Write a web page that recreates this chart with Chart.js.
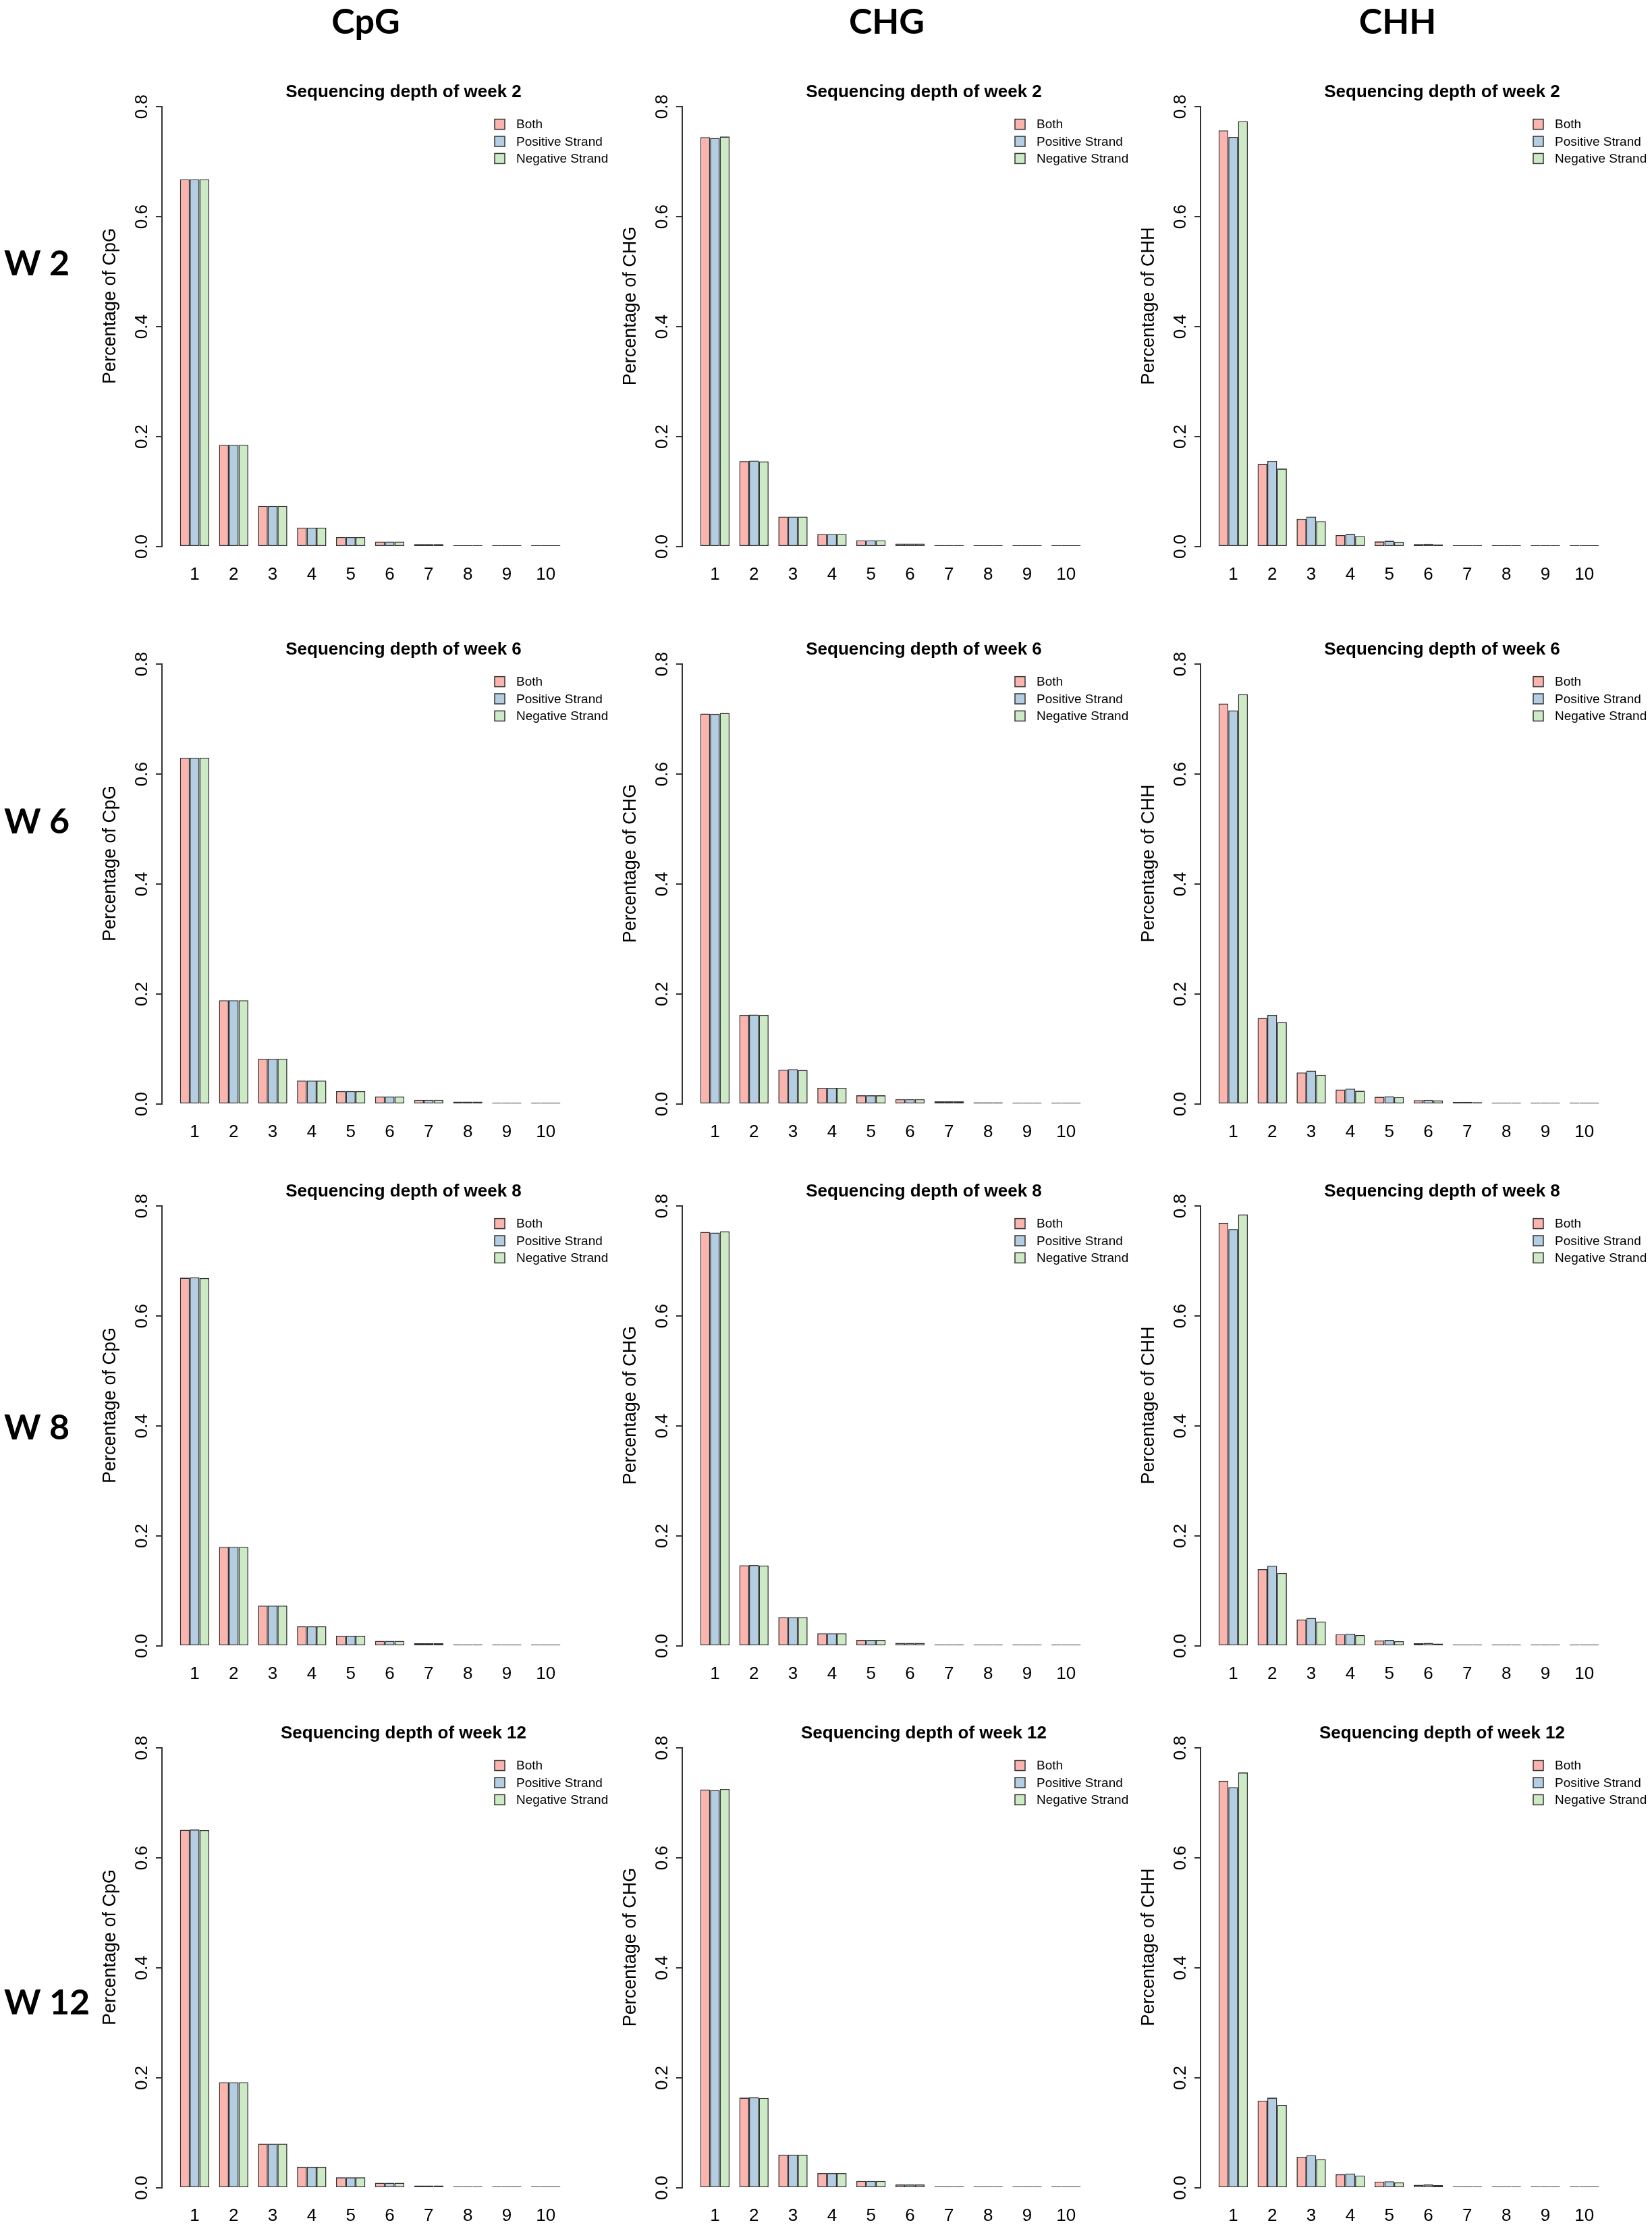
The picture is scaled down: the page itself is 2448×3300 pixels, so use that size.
<!DOCTYPE html>
<html>
<head>
<meta charset="utf-8">
<script src="https://cdn.jsdelivr.net/npm/chart.js@4.4.1/dist/chart.umd.min.js"></script>
<style>
  html, body { margin: 0; padding: 0; background: #fff; }
  #page { position: relative; width: 2448px; height: 3300px; overflow: hidden; background: #fff; }
  #page canvas { position: absolute; }
  .big { position: absolute; font-family: Lato, "Open Sans", sans-serif; font-weight: bold;
         font-size: 52px; line-height: 1; color: #000; white-space: nowrap; }
</style>
</head>
<body>
<div id="page"></div>
<script>
// depth categories on the x axis
const depths = [1, 2, 3, 4, 5, 6, 7, 8, 9, 10];
const depthLabels = ['1', '2', '3', '4', '5', '6', '7', '8', '9', '10'];
const yTickValues = [0, 0.2, 0.4, 0.6, 0.8];
const yTickLabels = ['0.0', '0.2', '0.4', '0.6', '0.8'];

const contexts = ['CpG', 'CHG', 'CHH'];
const weeks = [2, 6, 8, 12];
const weekLabels = ['W 2', 'W 6', 'W 8', 'W 12'];
const seriesNames = ['Both', 'Positive Strand', 'Negative Strand'];

// week 2
const cpgW2Both = [0.668, 0.185, 0.074, 0.0345, 0.0172, 0.0093, 0.0046, 0.0022, 0.0011, 0.0005];
const cpgW2Pos  = [0.668, 0.185, 0.074, 0.0345, 0.0172, 0.0093, 0.0046, 0.0022, 0.0011, 0.0005];
const cpgW2Neg  = [0.668, 0.185, 0.074, 0.0345, 0.0172, 0.0093, 0.0046, 0.0022, 0.0011, 0.0005];
const chgW2Both = [0.7447, 0.1554, 0.0547, 0.023, 0.0115, 0.0055, 0.0027, 0.0012, 0.0006, 0.0003];
const chgW2Pos  = [0.743, 0.1565, 0.0547, 0.023, 0.0115, 0.0055, 0.0027, 0.0012, 0.0006, 0.0003];
const chgW2Neg  = [0.7458, 0.1549, 0.0547, 0.023, 0.0115, 0.0055, 0.0027, 0.0012, 0.0006, 0.0003];
const chhW2Both = [0.757, 0.150, 0.0505, 0.0211, 0.0094, 0.0047, 0.0020, 0.0010, 0.0005, 0.0003];
const chhW2Pos  = [0.745, 0.156, 0.0546, 0.0229, 0.0106, 0.0053, 0.0022, 0.0011, 0.0005, 0.0003];
const chhW2Neg  = [0.7736, 0.142, 0.0464, 0.0194, 0.0088, 0.0041, 0.0018, 0.0009, 0.0004, 0.0002];

// week 6
const cpgW6Both = [0.630, 0.1888, 0.0826, 0.0427, 0.0235, 0.0137, 0.0077, 0.0044, 0.0025, 0.0013];
const cpgW6Pos  = [0.630, 0.1888, 0.0826, 0.0427, 0.0235, 0.0137, 0.0077, 0.0044, 0.0025, 0.0013];
const cpgW6Neg  = [0.630, 0.1888, 0.0826, 0.0427, 0.0235, 0.0137, 0.0077, 0.0044, 0.0025, 0.0013];
const chgW6Both = [0.710, 0.162, 0.0624, 0.0296, 0.0159, 0.0088, 0.0049, 0.0030, 0.0015, 0.0007];
const chgW6Pos  = [0.7096, 0.1626, 0.0635, 0.0296, 0.0159, 0.0088, 0.0049, 0.0030, 0.0015, 0.0007];
const chgW6Neg  = [0.7112, 0.162, 0.0619, 0.0296, 0.0159, 0.0088, 0.0049, 0.0030, 0.0015, 0.0007];
const chhW6Both = [0.7283, 0.1565, 0.0575, 0.0263, 0.0131, 0.0071, 0.0038, 0.0018, 0.0009, 0.0004];
const chhW6Pos  = [0.7157, 0.162, 0.0607, 0.0279, 0.0142, 0.0077, 0.0041, 0.0020, 0.0009, 0.0004];
const chhW6Neg  = [0.7453, 0.1488, 0.0531, 0.0241, 0.0126, 0.0066, 0.0035, 0.0016, 0.0008, 0.0004];

// week 8
const cpgW8Both = [0.6697, 0.1801, 0.0734, 0.0356, 0.0186, 0.0093, 0.0049, 0.0027, 0.0013, 0.0006];
const cpgW8Pos  = [0.6702, 0.1801, 0.0734, 0.0356, 0.0186, 0.0093, 0.0049, 0.0027, 0.0013, 0.0006];
const cpgW8Neg  = [0.669, 0.1801, 0.0734, 0.0356, 0.0186, 0.0093, 0.0049, 0.0027, 0.0013, 0.0006];
const chgW8Both = [0.7529, 0.1467, 0.0525, 0.023, 0.0109, 0.0055, 0.0027, 0.0012, 0.0006, 0.0003];
const chgW8Pos  = [0.7518, 0.1472, 0.0525, 0.023, 0.0109, 0.0055, 0.0027, 0.0012, 0.0006, 0.0003];
const chgW8Neg  = [0.754, 0.1461, 0.0525, 0.023, 0.0109, 0.0055, 0.0027, 0.0012, 0.0006, 0.0003];
const chhW8Both = [0.7694, 0.1398, 0.0481, 0.0213, 0.0098, 0.0049, 0.0022, 0.0010, 0.0005, 0.0002];
const chhW8Pos  = [0.758, 0.1458, 0.0508, 0.0224, 0.0109, 0.0055, 0.0025, 0.0011, 0.0005, 0.0002];
const chhW8Neg  = [0.7847, 0.1327, 0.0442, 0.0197, 0.0087, 0.0044, 0.0019, 0.0009, 0.0004, 0.0002];

// week 12
const cpgW12Both = [0.651, 0.1922, 0.0805, 0.0383, 0.0192, 0.0093, 0.0044, 0.0022, 0.0011, 0.0005];
const cpgW12Pos  = [0.6516, 0.1922, 0.0805, 0.0383, 0.0192, 0.0093, 0.0044, 0.0022, 0.0011, 0.0005];
const cpgW12Neg  = [0.6505, 0.1922, 0.0805, 0.0383, 0.0192, 0.0093, 0.0044, 0.0022, 0.0011, 0.0005];
const chgW12Both = [0.7243, 0.1641, 0.0604, 0.0269, 0.0126, 0.0060, 0.0027, 0.0012, 0.0006, 0.0003];
const chgW12Pos  = [0.7232, 0.1646, 0.0604, 0.0269, 0.0126, 0.0060, 0.0027, 0.0012, 0.0006, 0.0003];
const chgW12Neg  = [0.7254, 0.1635, 0.0604, 0.0269, 0.0126, 0.0060, 0.0027, 0.0012, 0.0006, 0.0003];
const chhW12Both = [0.7402, 0.1586, 0.0565, 0.0247, 0.0115, 0.0055, 0.0025, 0.0010, 0.0005, 0.0003];
const chhW12Pos  = [0.7287, 0.1641, 0.0593, 0.0258, 0.0121, 0.0060, 0.0027, 0.0011, 0.0005, 0.0003];
const chhW12Neg  = [0.7556, 0.1509, 0.0521, 0.0225, 0.0099, 0.0049, 0.0022, 0.0009, 0.0004, 0.0002];

// rows = weeks, columns = contexts
const panelValues = [
    [[cpgW2Both, cpgW2Pos, cpgW2Neg], [chgW2Both, chgW2Pos, chgW2Neg], [chhW2Both, chhW2Pos, chhW2Neg]],
    [[cpgW6Both, cpgW6Pos, cpgW6Neg], [chgW6Both, chgW6Pos, chgW6Neg], [chhW6Both, chhW6Pos, chhW6Neg]],
    [[cpgW8Both, cpgW8Pos, cpgW8Neg], [chgW8Both, chgW8Pos, chgW8Neg], [chhW8Both, chhW8Pos, chhW8Neg]],
    [[cpgW12Both, cpgW12Pos, cpgW12Neg], [chgW12Both, chgW12Pos, chgW12Neg], [chhW12Both, chhW12Pos, chhW12Neg]]
];

// layout (page pixels)
const colAxisX = [241, 1012, 1780];     // x of the y axis line in each column
const rowTopY = [158, 984, 1787, 2590];   // y of the 0.8 tick in each row
const headerX = [542, 1314, 2071];
const headerY = 30;
const rowLabelY = [388, 1215, 2113, 2965];

const FONT = '"Liberation Sans", Arial, sans-serif';
const fillColors = ['#FBB4AE', '#B3CDE3', '#CCEBC5'];
const edgeColor = '#333333';

const Y_AXIS_W = 140;
const PAD_TOP = 20;
const PAD_RIGHT = 100;
const X_AXIS_H = 80;
const PLOT_W = 614;
const PLOT_H = 713;
const Y_MAX = 0.875;
const X_MIN = 0.18;
const X_MAX = 10.8;

Chart.defaults.font.family = FONT;
Chart.defaults.color = '#000';

// title, legend and y axis line, placed the way R put them
const panelDecor = {
    id: 'panelDecor',
    afterDraw(chart, args, opts) {
        const ctx = chart.ctx;
        const y = chart.scales.y;
        const axisX = chart.chartArea.left;
        const top = y.getPixelForValue(yTickValues[yTickValues.length - 1]);
        const bottom = y.getPixelForValue(yTickValues[0]);
        ctx.save();
        ctx.strokeStyle = edgeColor;
        ctx.lineWidth = 2;
        ctx.beginPath();
        ctx.moveTo(axisX - 1, top);
        ctx.lineTo(axisX - 1, bottom);
        ctx.stroke();

        ctx.fillStyle = '#000';
        ctx.font = 'bold 26px ' + FONT;
        ctx.textAlign = 'center';
        ctx.textBaseline = 'middle';
        ctx.fillText(opts.title, axisX + 357, top - 21);

        ctx.font = '19px ' + FONT;
        ctx.textAlign = 'left';
        chart.data.datasets.forEach(function (ds, i) {
            const cy = top + 26 + i * 25.4;
            ctx.fillStyle = ds.backgroundColor;
            ctx.fillRect(axisX + 492, cy - 7.5, 15, 15);
            ctx.strokeStyle = edgeColor;
            ctx.lineWidth = 1.5;
            ctx.strokeRect(axisX + 492, cy - 7.5, 15, 15);
            ctx.fillStyle = '#000';
            ctx.fillText(ds.label, axisX + 524, cy + 1);
        });
        ctx.restore();
    }
};

const page = document.getElementById('page');

function addText(text, x, y, centered) {
    const el = document.createElement('div');
    el.className = 'big';
    el.textContent = text;
    el.style.left = x + 'px';
    el.style.top = y + 'px';
    el.style.transform = centered ? 'translate(-50%, -50%)' : 'translate(0, -50%)';
    page.appendChild(el);
}

contexts.forEach(function (c, i) { addText(c, headerX[i], headerY, true); });
weekLabels.forEach(function (w, i) { addText(w, 6, rowLabelY[i], false); });

function makePanel(row, col) {
    const canvas = document.createElement('canvas');
    canvas.width = Y_AXIS_W + PLOT_W + PAD_RIGHT;
    canvas.height = PAD_TOP + PLOT_H + X_AXIS_H;
    const gapAbove = PLOT_H * (1 - yTickValues[yTickValues.length - 1] / Y_MAX);
    canvas.style.left = (colAxisX[col] - Y_AXIS_W) + 'px';
    canvas.style.top = Math.round(rowTopY[row] - gapAbove - PAD_TOP) + 'px';
    page.appendChild(canvas);

    const values = panelValues[row][col];
    new Chart(canvas, {
        type: 'bar',
        data: {
            labels: depths,
            datasets: seriesNames.map(function (name, i) {
                return {
                    label: name,
                    data: values[i],
                    backgroundColor: fillColors[i],
                    borderColor: edgeColor,
                    borderWidth: 1.6,
                    borderSkipped: false,
                    minBarLength: 2,
                    categoryPercentage: 0.75,
                    barPercentage: 1.0
                };
            })
        },
        options: {
            responsive: false,
            animation: false,
            events: [],
            layout: { padding: { left: 0, top: PAD_TOP, right: PAD_RIGHT, bottom: 0 } },
            plugins: {
                legend: { display: false },
                title: { display: false },
                tooltip: { enabled: false },
                panelDecor: { title: 'Sequencing depth of week ' + weeks[row] }
            },
            scales: {
                x: {
                    type: 'linear',
                    min: X_MIN,
                    max: X_MAX,
                    offset: false,
                    afterBuildTicks: function (s) { s.ticks = depths.map(function (v) { return { value: v }; }); },
                    afterFit: function (s) { s.height = X_AXIS_H; },
                    grid: { display: false, drawTicks: false },
                    border: { display: false },
                    ticks: {
                        autoSkip: false,
                        maxRotation: 0,
                        padding: 26,
                        color: '#000',
                        font: { size: 26 },
                        callback: function (v, i) { return depthLabels[i]; }
                    }
                },
                y: {
                    min: 0,
                    max: Y_MAX,
                    afterBuildTicks: function (s) { s.ticks = yTickValues.map(function (v) { return { value: v }; }); },
                    afterFit: function (s) { s.width = Y_AXIS_W; },
                    grid: { display: true, drawOnChartArea: false, drawTicks: true, tickLength: 10, color: edgeColor, lineWidth: 2 },
                    border: { display: false },
                    ticks: {
                        minRotation: 90,
                        maxRotation: 90,
                        crossAlign: 'center',
                        padding: 2,
                        color: '#000',
                        font: { size: 26 },
                        callback: function (v, i) { return yTickLabels[i]; }
                    },
                    title: {
                        display: true,
                        text: 'Percentage of ' + contexts[col],
                        color: '#000',
                        font: { size: 27 },
                        padding: { top: 46, bottom: 0 }
                    }
                }
            }
        },
        plugins: [panelDecor]
    });
}

for (let r = 0; r < weeks.length; r++) {
    for (let c = 0; c < contexts.length; c++) {
        makePanel(r, c);
    }
}
</script>
</body>
</html>
